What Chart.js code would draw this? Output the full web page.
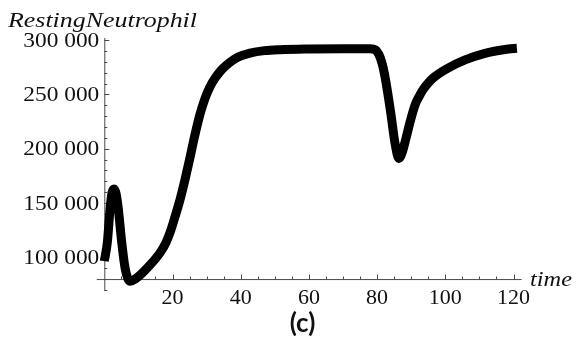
<!DOCTYPE html>
<html>
<head>
<meta charset="utf-8">
<script src="https://cdn.jsdelivr.net/npm/chart.js@4.4.1/dist/chart.umd.min.js"></script>
<style>
  html, body { margin: 0; padding: 0; background: #fff; }
  canvas { display: block; }
</style>
</head>
<body>
<canvas id="c" width="576" height="339"></canvas>
<script>
// Resting neutrophil count over time
const times = [0, 0.9, 1.7, 2.3, 2.9, 3.5, 4.1, 5.1, 6.1, 7.5, 9, 10.5, 13.4, 16.3, 18, 19.3, 20.7,
  22.2, 23.7, 25, 26.6, 28, 29.5, 31, 32.5, 34.5, 36.4, 39, 42.7, 47, 51.5, 60, 70, 78, 79.5,
  80.5, 81.5, 82.5, 84, 85.2, 86.4, 87.3, 88.5, 89.7, 91.1, 92.3, 93.5, 95, 96.5, 100.4, 105.8, 111.6, 118.5, 121];
const restingNeutrophil = [96500, 114000, 145000, 160000, 163000, 158000, 145000, 114000, 90000, 78000,
  80000, 83700, 92900, 104000, 113000, 123000, 137000, 153000, 172000, 190000, 213000, 231000,
  246000, 257000, 265000, 273000, 278500, 284000, 288000, 290300, 291200, 291800, 292000, 292000,
  291000, 287000, 278000, 263000, 233000, 206000, 191000, 196000, 210000, 225000, 240000, 248000,
  254500, 260500, 265300, 273500, 281700, 287800, 291800, 292400];

// Axis ticks
const xTickValues = [20, 40, 60, 80, 100, 120];
const xTickLabels = ['20', '40', '60', '80', '100', '120'];
const xMinorStep = 5;
const yTickValues = [100000, 150000, 200000, 250000, 300000];
const yTickLabels = ['100 000', '150 000', '200 000', '250 000', '300 000'];
const yMinorStep = 10000;

const X_ORIGIN = 0;      // where the vertical axis sits
const Y_ORIGIN = 80000;  // where the horizontal axis sits

const axisColor = '#4a4a4a';
const serif = '"Liberation Serif"';

// draw text stretched horizontally to a given width
function fitText(ctx, text, x, y, width) {
  const w = ctx.measureText(text).width;
  ctx.save();
  ctx.translate(x, y);
  ctx.scale(width / w, 1);
  ctx.fillText(text, 0, 0);
  ctx.restore();
}

const axesPlugin = {
  id: 'mathAxes',
  beforeDatasetsDraw(chart) {
    const { ctx, scales: { x, y } } = chart;
    const ax = x.getPixelForValue(X_ORIGIN);
    const ay = y.getPixelForValue(Y_ORIGIN);
    ctx.save();
    ctx.strokeStyle = axisColor;
    ctx.lineWidth = 1;
    // axis lines
    ctx.beginPath();
    ctx.moveTo(x.left, ay + 0.5);
    ctx.lineTo(x.right, ay + 0.5);
    ctx.moveTo(ax + 0.5, y.top);
    ctx.lineTo(ax + 0.5, y.bottom);
    ctx.stroke();

    // x ticks (pointing up)
    ctx.beginPath();
    for (let v = xMinorStep; v <= x.max; v += xMinorStep) {
      const px = Math.round(x.getPixelForValue(v)) + 0.5;
      const len = xTickValues.includes(v) ? 4.5 : 2.5;
      ctx.moveTo(px, ay);
      ctx.lineTo(px, ay - len);
    }
    // y ticks (pointing right)
    for (let v = 70000; v <= y.max; v += yMinorStep) {
      const py = Math.round(y.getPixelForValue(v)) + 0.5;
      const len = yTickValues.includes(v) ? 5 : 3;
      ctx.moveTo(ax, py);
      ctx.lineTo(ax + len, py);
    }
    ctx.stroke();

    // tick labels
    ctx.fillStyle = '#111';
    ctx.font = '22px ' + serif + ', serif';
    ctx.textAlign = 'center';
    ctx.textBaseline = 'alphabetic';
    xTickValues.forEach((v, i) => {
      ctx.fillText(xTickLabels[i], x.getPixelForValue(v), ay + 25);
    });
    ctx.textAlign = 'left';
    ctx.textBaseline = 'middle';
    yTickValues.forEach((v, i) => {
      fitText(ctx, yTickLabels[i], ax - 81, y.getPixelForValue(v) + 1, 76);
    });
    ctx.restore();
  },
  afterDraw(chart) {
    const { ctx } = chart;
    ctx.save();
    ctx.fillStyle = '#111';
    ctx.textBaseline = 'alphabetic';
    ctx.textAlign = 'left';
    // axis titles
    ctx.font = 'italic 22px ' + serif + ', serif';
    fitText(ctx, 'RestingNeutrophil', 8, 27, 189);
    fitText(ctx, 'time', 530, 286, 42);
    // panel label
    ctx.font = 'bold 26px Lato, "Open Sans", sans-serif';
    ctx.textAlign = 'center';
    ctx.fillText('(c)', 302.5, 332);
    ctx.restore();
  }
};

function build() {
  new Chart(document.getElementById('c'), {
    type: 'line',
    data: {
      datasets: [{
        data: times.map((t, i) => ({ x: t, y: restingNeutrophil[i] })),
        borderColor: '#000',
        borderWidth: 9,
        borderCapStyle: 'butt',
        borderJoinStyle: 'round',
        pointRadius: 0,
        fill: false,
        cubicInterpolationMode: 'monotone',
        clip: false
      }]
    },
    options: {
      responsive: false,
      animation: false,
      devicePixelRatio: 1,
      layout: { padding: { left: 96.8, right: 54.3, top: 37.9, bottom: 48 } },
      plugins: { legend: { display: false }, tooltip: { enabled: false } },
      scales: {
        x: { type: 'linear', min: -2.2, max: 122.4, display: false },
        y: { type: 'linear', min: 69000, max: 302000, display: false }
      }
    },
    plugins: [axesPlugin]
  });
}

Promise.all([
  document.fonts.load('22px "Liberation Serif"'),
  document.fonts.load('italic 22px "Liberation Serif"'),
  document.fonts.load('bold 26px Lato')
]).then(build, build);
</script>
</body>
</html>
